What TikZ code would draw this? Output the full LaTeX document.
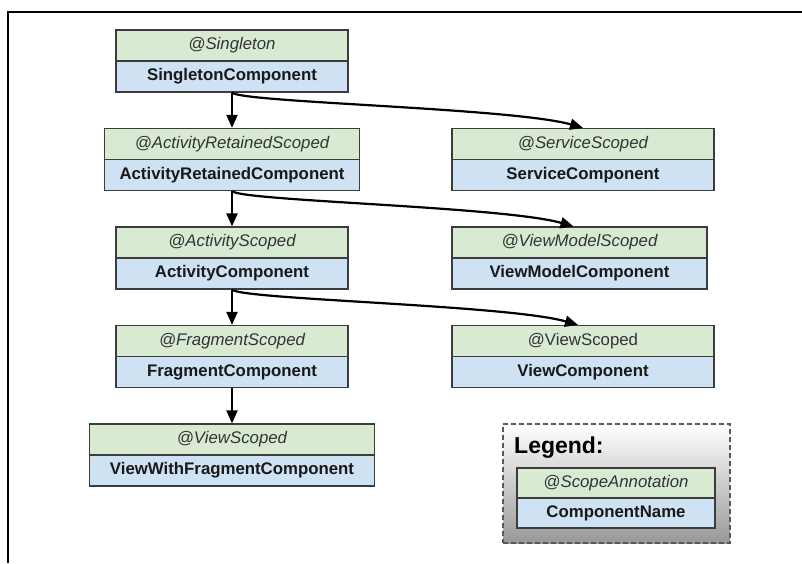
\documentclass[tikz,border=0pt]{standalone}
\usepackage{fontspec}
\setmainfont{Liberation Sans}
\usepackage{tikz}
\usetikzlibrary{arrows.meta, shadings}
\definecolor{scopegreen}{HTML}{D9EAD3}
\definecolor{compblue}{HTML}{CFE2F3}
\definecolor{boxline}{HTML}{3C3C3C}
\tikzstyle{scope} = [rectangle, minimum width=232pt, minimum height=31pt, inner sep=0pt, text centered, draw=boxline, line width=1.2pt, fill=scopegreen, text=black!80, font=\fontsize{16.8}{19}\selectfont\itshape]
\tikzstyle{comp} = [rectangle, minimum width=232pt, minimum height=31pt, inner sep=0pt, text centered, draw=boxline, line width=1.2pt, fill=compblue, text=black!90, font=\fontsize{16.8}{19}\selectfont\bfseries]
\tikzstyle{legendbox} = [rectangle, minimum width=227pt, minimum height=119pt, draw=black!65, line width=1.2pt, dashed, dash pattern=on 5pt off 3pt, top color=white, bottom color=black!40]
\tikzstyle{arrow} = [line width=2.2pt,->,>={Triangle[length=13pt,width=11pt]}]

\begin{document}
\begin{tikzpicture}[x=1pt, y=1pt, node distance=31pt]
        \useasboundingbox (0,0) rectangle (802,-563);
        \draw [line width=2pt] (8,-563) -- (8,-12) -- (802,-12);

        \node (Singleton) [scope] at (232,-45.5) {@Singleton};
        \node (SingletonComp) [comp, below of=Singleton] {SingletonComponent};

        \node (ARScope) [scope, minimum width=255pt, below of=SingletonComp, yshift=-36.5pt] {@ActivityRetainedScoped};
        \node (ARComp) [comp, minimum width=255pt, below of=ARScope] {ActivityRetainedComponent};
        \node (ServiceScope) [scope, minimum width=262pt, right of=ARScope, xshift=320pt] {@ServiceScoped};
        \node (ServiceComp) [comp, minimum width=262pt, below of=ServiceScope] {ServiceComponent};

        \node (ActivityScope) [scope, below of=ARComp, yshift=-36.5pt] {@ActivityScoped};
        \node (ActivityComp) [comp, below of=ActivityScope] {ActivityComponent};
        \node (VMScope) [scope, minimum width=255pt, right of=ActivityScope, xshift=316.5pt] {@ViewModelScoped};
        \node (VMComp) [comp, minimum width=255pt, below of=VMScope] {ViewModelComponent};

        \node (FragmentScope) [scope, below of=ActivityComp, yshift=-36.5pt] {@FragmentScoped};
        \node (FragmentComp) [comp, below of=FragmentScope] {FragmentComponent};
        \node (ViewScope) [scope, minimum width=262pt, right of=FragmentScope, xshift=320pt, font=\fontsize{16.8}{19}\selectfont] {@ViewScoped};
        \node (ViewComp) [comp, minimum width=262pt, below of=ViewScope] {ViewComponent};

        \node (VWFScope) [scope, minimum width=285pt, below of=FragmentComp, yshift=-36.5pt] {@ViewScoped};
        \node (VWFComp) [comp, minimum width=285pt, below of=VWFScope] {ViewWithFragmentComponent};

        % legend
        \node (Legend) [legendbox] at (616.5,-483.5) {};
        \node (LegendTitle) [anchor=west, inner sep=0pt, font=\fontsize{23}{26}\selectfont\bfseries] at (514,-448) {Legend:};
        \node (KeyScope) [scope, minimum width=198pt, minimum height=30pt] at (616,-483) {@ScopeAnnotation};
        \node (KeyComp) [comp, minimum width=198pt, minimum height=30pt, below of=KeyScope, yshift=1pt] {ComponentName};

        \draw [arrow] (SingletonComp.south) -- (ARScope.north);
        \draw [arrow] (ARComp.south) -- (ActivityScope.north);
        \draw [arrow] (ActivityComp.south) -- (FragmentScope.north);
        \draw [arrow] (FragmentComp.south) -- (VWFScope.north);

        \draw [arrow] (SingletonComp.south) .. controls +(10,-10) and +(-70,20) .. (ServiceScope.north);
        \draw [arrow] (ARComp.south) .. controls +(10,-10) and +(-70,20) .. ([xshift=-6pt]VMScope.north);
        \draw [arrow] (ActivityComp.south) .. controls +(10,-10) and +(-70,20) .. ([xshift=-5pt]ViewScope.north);
\end{tikzpicture}
\end{document}
